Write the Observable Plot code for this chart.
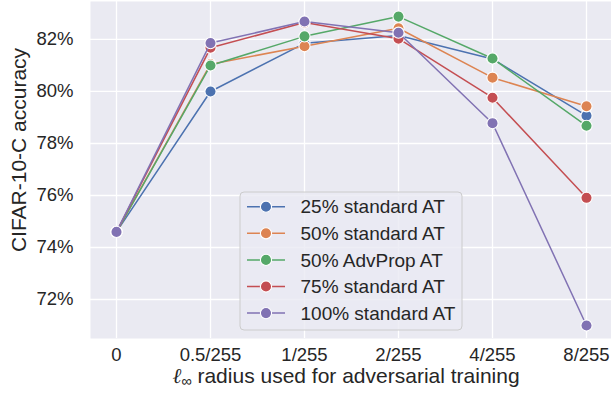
<!DOCTYPE html>
<html><head><meta charset="utf-8">
<script src="https://cdn.jsdelivr.net/npm/d3@7"></script>
<script src="https://cdn.jsdelivr.net/npm/@observablehq/plot@0.6"></script>
<style>
html,body{margin:0;background:#fff;overflow:hidden}
svg{display:block}
</style>
</head><body><div id="chart"></div>
<script>
const radii = ["0", "0.5/255", "1/255", "2/255", "4/255", "8/255"];
const seriesNames = ["25% standard AT", "50% standard AT", "50% AdvProp AT", "75% standard AT", "100% standard AT"];
const colors = ["#4c72b0", "#dd8452", "#55a868", "#c44e52", "#8172b3"];
const std25 = [74.6, 80.0, 81.85, 82.15, 81.25, 79.07];
const std50 = [74.6, 81.05, 81.74, 82.43, 80.53, 79.43];
const adv50 = [74.6, 81.0, 82.12, 82.88, 81.27, 78.68];
const std75 = [74.6, 81.68, 82.65, 82.03, 79.76, 75.91];
const std100 = [74.6, 81.86, 82.69, 82.26, 78.78, 71.0];
const yTicks = [72, 74, 76, 78, 80, 82];
const xLabel = "radius used for adversarial training";
const yLabel = "CIFAR-10-C accuracy";

const allSeries = [std25, std50, adv50, std75, std100];
const rows = allSeries.map((vals, i) => vals.map((v, j) => ({series: seriesNames[i], radius: radii[j], acc: v})));

const seriesMarks = rows.flatMap((data, i) => [
  Plot.lineY(data, {x: "radius", y: "acc", stroke: colors[i], strokeWidth: 1.5}),
  Plot.dot(data, {x: "radius", y: "acc", r: 5.6, fill: colors[i], stroke: "white", strokeWidth: 1.1})
]);

const fs = 18.5;
const labelFs = 21;
const font = "'Liberation Sans', Arial, sans-serif";
const chart = Plot.plot({
  width: 611, height: 400,
  marginLeft: 90, marginRight: 0, marginTop: 1, marginBottom: 62,
  style: {fontSize: fs + "px", fontFamily: font, color: "#262626", background: "#fff", overflow: "visible"},
  x: {type: "point", domain: radii, range: [113.5, 588], padding: 0, label: null},
  y: {domain: [70.5, 83.46], label: null},
  marks: [
    Plot.frame({fill: "#eaeaf2", stroke: null}),
    Plot.gridX(radii, {stroke: "white", strokeOpacity: 1, strokeWidth: 1.3}),
    Plot.gridY(yTicks, {stroke: "white", strokeOpacity: 1, strokeWidth: 1.3}),
    ...seriesMarks,
    Plot.axisX(radii, {tickSize: 0, tickPadding: 9, fontSize: fs, fill: "#262626", label: null}),
    Plot.axisY(yTicks, {tickSize: 0, tickPadding: 17, fontSize: fs, fill: "#262626", tickFormat: d => d + "%", label: null})
  ]
});
document.getElementById("chart").appendChild(chart);

const svg = d3.select(chart);
// axis titles
const xt = svg.append("text").attr("x", 346).attr("y", 383).attr("text-anchor", "middle")
  .attr("font-family", font).attr("font-size", labelFs).attr("fill", "#262626");
xt.append("tspan").attr("font-family", "'DejaVu Serif', serif").attr("font-style", "italic").text("ℓ");
xt.append("tspan").attr("font-size", labelFs * 0.7).attr("dy", 3).text("∞");
xt.append("tspan").attr("dy", -3).text(" " + xLabel);
svg.append("text").attr("transform", "translate(26,150) rotate(-90)").attr("text-anchor", "middle")
  .attr("font-family", font).attr("font-size", labelFs).attr("fill", "#262626").text(yLabel);

// legend
const lg = svg.append("g");
lg.append("rect").attr("x", 240).attr("y", 192).attr("width", 222).attr("height", 138).attr("rx", 4)
  .attr("fill", "#eaeaf2").attr("fill-opacity", 0.8).attr("stroke", "#cccccc").attr("stroke-width", 1);
seriesNames.forEach((name, i) => {
  const cy = 206.7 + i * 26.6;
  lg.append("line").attr("x1", 247).attr("x2", 285).attr("y1", cy).attr("y2", cy)
    .attr("stroke", colors[i]).attr("stroke-width", 1.5);
  lg.append("circle").attr("cx", 266).attr("cy", cy).attr("r", 5.6).attr("fill", colors[i])
    .attr("stroke", "white").attr("stroke-width", 1.1);
  lg.append("text").attr("x", 300.5).attr("y", cy).attr("dy", "0.35em").attr("text-anchor", "start")
    .attr("font-family", font).attr("font-size", 19).attr("fill", "#262626").text(name);
});
</script>
</body></html>
